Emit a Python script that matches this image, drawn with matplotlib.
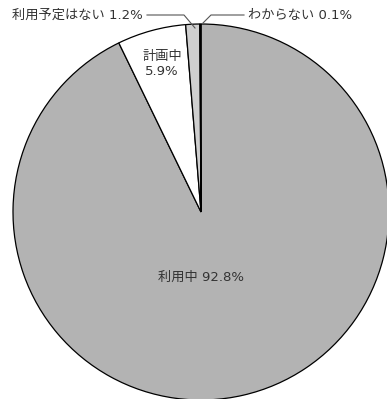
import matplotlib
matplotlib.use("Agg")
from matplotlib import pyplot as plt

plt.rcParams['font.family'] = ['DejaVu Sans', 'Noto Sans CJK JP']

# データ（12時の位置から時計回り）
labels = ["利用中", "計画中", "利用予定はない", "わからない"]
values = [92.8, 5.9, 1.2, 0.1]
colors = ["#b3b3b3", "#ffffff", "#cfcfcf", "#222222"]

W, H = 387, 399
fig = plt.figure(figsize=(W / 100, H / 100), dpi=100)

# 円の中心 (201, 212) px, 半径 188 px
cx, cy, r = 201, 212, 188
ax = fig.add_axes([(cx - r) / W, (H - cy - r) / H, 2 * r / W, 2 * r / H])
ax.pie(values, colors=colors, startangle=90, counterclock=False, radius=1,
       wedgeprops=dict(edgecolor="black", linewidth=0.9), frame=False)
ax.set_xlim(-1, 1)
ax.set_ylim(-1, 1)
ax.set_aspect("auto")
ax.axis("off")
for p in ax.patches:
    p.set_clip_on(False)

txt = "#333333"
fs = 9.5
ax.text(0, -0.35, f"{labels[0]} {values[0]}%", ha="center", va="center",
        fontsize=fs, color=txt)
ax.text(-0.207, 0.787, f"{labels[1]}\n{values[1]}%", ha="center", va="center",
        fontsize=fs, color=txt, linespacing=1.15)


def px(x, y):
    return (x - cx) / r, (cy - y) / r


# 利用予定はない
x0, y0 = px(147, 15)
x1, y1 = px(184, 15)
x2, y2 = px(195, 28)
ax.plot([x0, x1, x2], [y0, y1, y2], color="#555555", lw=0.8, clip_on=False)
ax.text(*px(143, 15), f"{labels[2]} {values[2]}%", ha="right", va="center",
        fontsize=fs, color=txt)

# わからない
x0, y0 = px(203, 23)
x1, y1 = px(211, 15)
x2, y2 = px(244, 15)
ax.plot([x0, x1, x2], [y0, y1, y2], color="#555555", lw=0.8, clip_on=False)
ax.text(*px(248, 15), f"{labels[3]} {values[3]}%", ha="left", va="center",
        fontsize=fs, color=txt)

fig.savefig("out.png", dpi=100)
